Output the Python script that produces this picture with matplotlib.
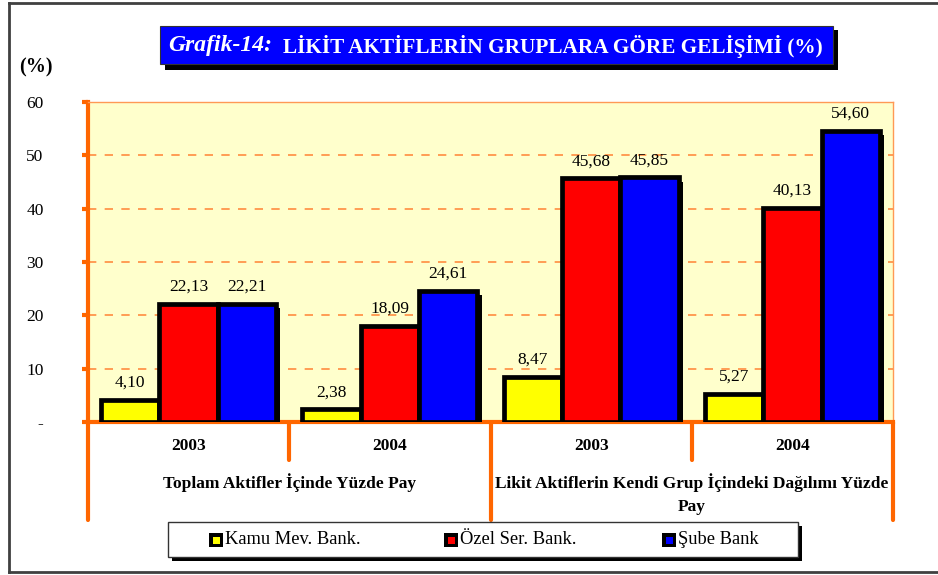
import numpy as np
import matplotlib
matplotlib.use("Agg")
import matplotlib.pyplot as plt
import matplotlib.patheffects as pe
from matplotlib.patches import Rectangle
from matplotlib.lines import Line2D
import matplotlib.transforms as mtransforms

# data
years = ["2003", "2004", "2003", "2004"]
groups = ["Toplam Aktifler İçinde Yüzde Pay",
          "Likit Aktiflerin Kendi Grup İçindeki Dağılımı Yüzde\nPay"]
series = ["Kamu Mev. Bank.", "Özel Ser. Bank.", "Şube Bank"]
kamu = [4.10, 2.38, 8.47, 5.27]
ozel = [22.13, 18.09, 45.68, 40.13]
sube = [22.21, 24.61, 45.85, 54.60]
colors = ["#FFFF00", "#FF0000", "#0000FF"]
yticks = [0, 10, 20, 30, 40, 50, 60]
ytick_labels = ["-", "10", "20", "30", "40", "50", "60"]

plt.rcParams['font.family'] = ['Liberation Serif', 'DejaVu Serif']

W, H = 938, 575
fig = plt.figure(figsize=(W / 100, H / 100), dpi=100)
fig.patch.set_facecolor("white")


def fx(x):
    return x / W


def fy(y):
    return 1 - y / H


orange = "#FF6600"

ax = fig.add_axes([fx(88), fy(422), fx(893) - fx(88), fy(102) - fy(422)])
ax.set_facecolor("#FFFFCC")
ax.set_xlim(0, 4)
ax.set_ylim(0, 60)

x = np.arange(len(years)) + 0.5
bw = 0.29
shadow = [pe.SimplePatchShadow(offset=(3, -3), shadow_rgbFace="black", alpha=1), pe.Normal()]
for i, vals in enumerate([kamu, ozel, sube]):
    bars = ax.bar(x + (i - 1) * bw, vals, width=bw, color=colors[i], edgecolor="black",
                  linewidth=3.4, zorder=3)
    for b, v in zip(bars, vals):
        b.set_path_effects(shadow)
        ax.annotate(("%.2f" % v).replace(".", ","), (b.get_x() + b.get_width() / 2, v),
                    xytext=(0, 6.5), textcoords="offset points", ha="center", va="bottom",
                    fontsize=12.5, zorder=4)

# grid
for yv in yticks[1:-1]:
    ax.axhline(yv, color="#FF8C40", lw=1.2, ls=(0, (5, 5)), zorder=1)

ax.set_xticks([])
ax.set_yticks(yticks)
ax.set_yticklabels(ytick_labels, fontsize=12.5)
ax.tick_params(axis="y", length=4, width=3, color=orange, pad=28)
ax.spines["left"].set_color(orange)
ax.spines["left"].set_linewidth(3)
ax.spines["bottom"].set_color(orange)
ax.spines["bottom"].set_linewidth(3)
ax.spines["top"].set_color("#FF9955")
ax.spines["top"].set_linewidth(1)
ax.spines["right"].set_color("#FF9955")
ax.spines["right"].set_linewidth(1)

# category area below axis
trans = mtransforms.blended_transform_factory(ax.transData, ax.transAxes)
for xv, ybot in [(0, -0.306), (1, -0.119), (2, -0.306), (3, -0.119), (4, -0.306)]:
    ax.add_line(Line2D([xv, xv], [0, ybot], transform=trans, color=orange, lw=3,
                       solid_capstyle="round", clip_on=False, zorder=5))
for xv, yr in zip(x, years):
    ax.text(xv, -0.075, yr, transform=trans, ha="center", va="center",
            fontsize=12.5, fontweight="bold")
ax.text(1, -0.19, groups[0], transform=trans, ha="center", va="center",
        fontsize=12.5, fontweight="bold")
ax.text(3, -0.225, groups[1], transform=trans, ha="center", va="center",
        fontsize=12.5, fontweight="bold", linespacing=1.6)

# y unit label
fig.text(fx(36), fy(67), "(%)", ha="center", va="center", fontsize=14.5, fontweight="bold")

# title box
fig.patches.append(Rectangle((fx(165), fy(70)), fx(673), fy(30) - fy(70), transform=fig.transFigure,
                             facecolor="black", edgecolor="none"))
fig.patches.append(Rectangle((fx(160), fy(64)), fx(673), fy(26) - fy(64), transform=fig.transFigure,
                             facecolor="#0000FF", edgecolor="#333333", lw=0.8))
fig.text(fx(168), fy(45), "Grafik-14:", color="white", fontsize=17, fontweight="bold",
         fontstyle="italic", ha="left", va="center")
fig.text(fx(283), fy(46), "LİKİT AKTİFLERİN GRUPLARA GÖRE GELİŞİMİ (%)", color="white",
         fontsize=15.3, fontweight="bold", ha="left", va="center")

# legend box
fig.patches.append(Rectangle((fx(172), fy(561)), fx(630), fy(526) - fy(561), transform=fig.transFigure,
                             facecolor="black", edgecolor="none"))
fig.patches.append(Rectangle((fx(168), fy(557)), fx(630), fy(522) - fy(557), transform=fig.transFigure,
                             facecolor="white", edgecolor="#333333", lw=1))
for sx, name, c in zip([209, 444, 662], series, colors):
    fig.patches.append(Rectangle((fx(sx), fy(547)), fx(14), fy(533) - fy(547), transform=fig.transFigure,
                                 facecolor="black", edgecolor="none"))
    fig.patches.append(Rectangle((fx(sx + 3.5), fy(543.5)), fx(7), fy(536.5) - fy(543.5),
                                 transform=fig.transFigure, facecolor=c, edgecolor="none"))
    fig.text(fx(sx + 16), fy(540), name, ha="left", va="center", fontsize=13.3)

# outer frame
for xs, ys in [([9, 9], [3, 572]), ([9, 938], [3, 3]), ([9, 938], [572, 572])]:
    fig.lines.append(Line2D([fx(v) for v in xs], [fy(v) for v in ys], transform=fig.transFigure,
                            color="#404040", lw=2))

fig.savefig("out.png", dpi=100)
